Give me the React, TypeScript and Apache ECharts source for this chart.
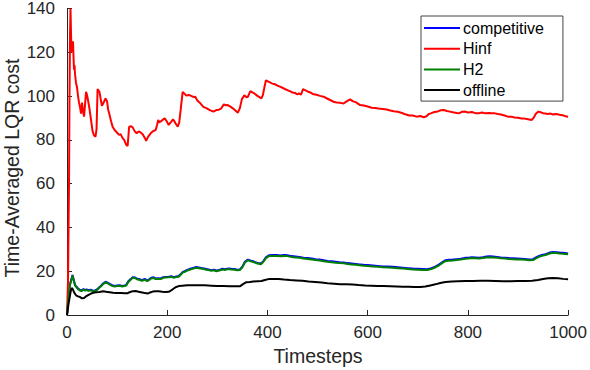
import React, { useEffect, useRef } from "react";
import * as echarts from "echarts";

const xTicks = [0, 200, 400, 600, 800, 1000];
const yTicks = [0, 20, 40, 60, 80, 100, 120, 140];
const seriesNames = ["competitive", "Hinf", "H2", "offline"];

const competitive: [number, number][] = [
  [0, 0], [3, 8], [6, 14], [9, 16.5], [11, 18.3], [13, 16.5], [16, 13.8], [19, 12.9], [22, 12.1], [25, 11.6], [29, 11.2], [33, 11.9], [36, 11.4], [39, 11.7], [43, 11.3], [47, 11.6], [52, 11.1], [56, 11.2], [60, 11.7], [64, 12.6], [68, 13.4], [72, 14.4], [77, 15.2], [81, 14.8], [86, 14.1], [90, 13.6], [95, 13.3], [100, 13.5], [105, 13.6], [110, 13.3], [115, 13.5], [118, 13.7], [122, 15.3], [127, 16.4], [131, 17.3], [136, 17.1], [140, 16.6], [145, 16.3], [150, 15.9], [155, 16.5], [160, 15.7], [164, 16.3], [168, 17], [173, 17.2], [177, 16.7], [182, 16.8], [187, 16.7], [192, 17.3], [197, 17.4], [203, 17.5], [208, 17.7], [213, 17.3], [218, 17.6], [223, 17.8], [227, 18.7], [231, 19.7], [235, 20], [240, 20.6], [246, 21.1], [252, 21.5], [258, 21.9], [263, 21.7], [270, 21.4], [276, 21.1], [282, 20.8], [288, 20.5], [293, 20.7], [298, 20.3], [304, 20.6], [310, 21.1], [316, 20.9], [322, 21.3], [328, 21.1], [334, 21], [340, 20.7], [345, 20.8], [350, 22.1], [355, 24.3], [361, 25.3], [367, 24.8], [373, 24.4], [380, 23.8], [387, 23.5], [392, 24.6], [397, 26.3], [403, 27.3], [410, 27.4], [418, 27.4], [426, 27.2], [433, 27.4], [440, 27.3], [448, 26.9], [456, 26.7], [464, 26.5], [472, 26.2], [480, 26], [488, 25.8], [496, 25.5], [504, 25.3], [512, 25], [520, 24.7], [528, 24.5], [536, 24.3], [544, 24.1], [552, 24], [560, 23.7], [568, 23.5], [576, 23.3], [584, 23.1], [592, 22.9], [600, 22.8], [610, 22.6], [620, 22.4], [630, 22.2], [640, 22.1], [650, 22], [660, 21.8], [670, 21.6], [680, 21.4], [690, 21.2], [700, 21.1], [710, 21], [719, 20.9], [727, 21.4], [735, 22.1], [742, 23], [750, 24.3], [755, 25], [762, 25.2], [770, 25.3], [778, 25.5], [786, 25.7], [794, 26.1], [801, 26.2], [808, 26.4], [815, 26.3], [822, 26.2], [830, 26.4], [837, 26.7], [844, 26.8], [850, 26.7], [858, 26.5], [866, 26.3], [874, 26.2], [882, 26], [890, 25.9], [898, 25.8], [906, 25.7], [914, 25.6], [922, 25.4], [930, 25.5], [936, 26.3], [942, 27], [948, 27.4], [955, 27.8], [962, 28.4], [969, 28.8], [976, 28.7], [983, 28.5], [990, 28.4], [1000, 28.1],
];

const hinf: [number, number][] = [
  [0, 0], [2, 15], [4, 60], [5, 100], [6, 128], [7, 140], [8, 129], [9, 120], [10, 125], [11, 121], [12, 125], [13, 118], [14, 112], [15, 114], [16, 110], [18, 106], [20, 104], [22, 100], [24, 97], [26, 95], [28, 92], [30, 97], [32, 93], [34, 90.6], [36, 96], [38, 101.9], [40, 100.5], [42, 98], [45, 94], [48, 89], [51, 84], [54, 82], [57, 81.5], [59, 85], [61, 103.2], [63, 102.5], [65, 101.7], [67, 99], [69.6, 95.6], [72, 96.5], [74, 97.5], [77, 98.9], [80, 97.5], [82, 94], [85, 91.3], [88, 88.5], [91, 86], [95, 84.5], [99, 83.5], [104, 82.3], [107, 82.6], [111, 80.8], [114, 80], [118, 77.8], [121, 77.2], [124, 86], [128, 86.2], [131, 85.7], [135, 84], [139, 83], [143, 83.8], [147, 83.4], [151, 82.6], [155, 81], [158, 79.6], [162, 81.5], [167, 83], [172, 84], [177, 84.5], [180, 87], [182, 89.1], [184, 88], [187, 88.4], [190, 89], [195, 89.8], [199, 88.5], [203, 86.8], [207, 88], [211.6, 89.4], [215, 88.2], [218, 87], [221, 86], [224, 88], [227, 94], [230.8, 101.9], [234, 101.2], [238, 100.2], [243, 100.5], [248, 100.1], [252, 99.6], [256, 99.7], [260, 98], [265, 97], [272, 95.1], [278, 94.5], [285, 93.6], [292, 92.9], [298, 93.6], [303, 93.8], [308, 94.4], [313, 96.2], [317, 95.8], [321, 95.9], [326, 95.2], [331, 94.4], [336, 93.4], [341, 92.4], [345, 94.5], [349, 98.6], [354, 100.4], [358, 99.5], [361, 99.7], [366, 102.3], [370, 101.7], [374, 101.2], [380, 100.1], [384, 99.5], [388, 98.9], [391, 100.5], [394, 104], [397, 107.2], [402, 106.6], [407, 106], [410, 105.7], [415, 105.4], [420, 104.8], [425, 104.3], [430, 103.8], [436, 103.1], [442, 102.5], [447, 102], [450, 101.6], [455, 101.4], [460, 100.8], [463, 101.2], [467, 100.6], [471, 103.2], [476, 102.6], [481, 102], [486, 101.6], [492, 100.8], [498, 100.6], [505, 100.1], [512, 99.7], [518, 99], [525, 98.2], [532, 97.4], [538, 97.1], [545, 96.9], [552, 96.6], [558, 97.6], [565, 98.5], [570, 97.7], [577, 97.1], [585, 95.9], [592, 95.7], [600, 95.2], [608, 94.7], [615, 94.6], [622, 94.3], [630, 94.1], [638, 93.9], [645, 93.4], [652, 93.1], [660, 92.8], [667, 92.4], [675, 91.7], [683, 91.1], [690, 91.1], [698, 90.6], [705, 90.9], [712, 90.3], [718, 90.9], [722, 91.8], [726, 92.1], [733, 92.7], [740, 93], [746, 93.5], [752, 93.6], [758, 93.2], [764, 92.9], [770, 92.6], [775, 92.4], [782, 92.1], [788, 92.8], [795, 92.9], [800, 92.5], [808, 92.7], [815, 92.2], [821, 92.1], [828, 92.5], [835, 92.1], [842, 92.3], [848, 92.2], [854, 92.1], [860, 91.8], [866, 91.6], [873, 91.1], [880, 90.6], [887, 90.6], [893, 90.2], [900, 90.1], [907, 89.8], [913, 89.7], [920, 89.4], [927, 89.1], [931, 90], [936, 92], [941, 92.9], [945, 92.6], [950, 92.2], [955, 92], [959, 91.8], [965, 92], [970, 91.6], [975, 91.8], [979, 91.7], [985, 91.3], [990, 91.2], [995, 90.8], [1000, 90.6],
];

const h2: [number, number][] = [
  [0, 0], [3, 7.8], [6, 13.8], [9, 16.2], [11, 18], [13, 16.2], [16, 13.5], [19, 12.6], [22, 11.8], [25, 11.3], [29, 10.9], [33, 11.6], [36, 11.1], [39, 11.4], [43, 11], [47, 11.3], [52, 10.8], [56, 10.9], [60, 11.4], [64, 12.3], [68, 13.1], [72, 14.1], [77, 14.9], [81, 14.5], [86, 13.8], [90, 13.3], [95, 13], [100, 13.2], [105, 13.3], [110, 13], [115, 13.2], [118, 13.4], [122, 15], [127, 16.1], [131, 17], [136, 16.8], [140, 16.3], [145, 16], [150, 15.6], [155, 16.2], [160, 15.4], [164, 16], [168, 16.7], [173, 16.9], [177, 16.4], [182, 16.5], [187, 16.4], [192, 17], [197, 17.1], [203, 17.2], [208, 17.4], [213, 17], [218, 17.3], [223, 17.5], [227, 18.4], [231, 19.4], [235, 19.7], [240, 20.3], [246, 20.8], [252, 21.2], [258, 21.6], [263, 21.4], [270, 21.1], [276, 20.8], [282, 20.5], [288, 20.2], [293, 20.4], [298, 20], [304, 20.3], [310, 20.8], [316, 20.6], [322, 21], [328, 20.8], [334, 20.7], [340, 20.4], [345, 20.5], [350, 21.8], [355, 24], [361, 25], [367, 24.5], [373, 24.1], [380, 23.5], [387, 23.2], [392, 24.3], [397, 26], [403, 26.9], [410, 27], [418, 27], [426, 26.8], [433, 27], [440, 26.9], [448, 26.5], [456, 26.3], [464, 26.1], [472, 25.8], [480, 25.6], [488, 25.4], [496, 25.1], [504, 24.9], [512, 24.6], [520, 24.3], [528, 24.1], [536, 23.9], [544, 23.7], [552, 23.6], [560, 23.3], [568, 23.1], [576, 22.9], [584, 22.7], [592, 22.5], [600, 22.4], [610, 22.2], [620, 22], [630, 21.8], [640, 21.7], [650, 21.6], [660, 21.4], [670, 21.2], [680, 21], [690, 20.8], [700, 20.7], [710, 20.6], [719, 20.5], [727, 21], [735, 21.7], [742, 22.6], [750, 23.9], [755, 24.6], [762, 24.8], [770, 24.9], [778, 25.1], [786, 25.3], [794, 25.7], [801, 25.8], [808, 26], [815, 25.9], [822, 25.8], [830, 26], [837, 26.3], [844, 26.4], [850, 26.3], [858, 26.1], [866, 25.9], [874, 25.8], [882, 25.6], [890, 25.5], [898, 25.4], [906, 25.3], [914, 25.2], [922, 25], [930, 25.1], [936, 25.9], [942, 26.6], [948, 27], [955, 27.4], [962, 28], [969, 28.4], [976, 28.3], [983, 28.1], [990, 28], [1000, 27.7],
];

const offline: [number, number][] = [
  [0, 0], [3, 5], [6, 9], [8, 11.5], [10, 12.3], [12, 11.5], [15, 10], [18, 9], [22, 8.5], [26, 8.2], [30, 7.6], [34, 7.8], [38, 8.5], [43, 9.2], [48, 9.8], [52, 10.1], [58, 10.4], [65, 10.5], [72, 10.8], [78, 10.6], [85, 10.4], [92, 10.2], [100, 10], [108, 10], [115, 9.9], [120, 9.9], [126, 10.5], [132, 10.9], [137, 11], [143, 10.6], [150, 10.3], [156, 10], [161, 9.8], [166, 10.3], [171, 10.7], [177, 10.9], [183, 10.8], [190, 10.6], [197, 10.5], [203, 10.6], [208, 11.2], [213, 12.1], [218, 12.8], [223, 13.2], [230, 13.4], [240, 13.6], [250, 13.6], [262, 13.6], [275, 13.6], [288, 13.4], [300, 13.2], [312, 13.2], [325, 13.1], [335, 13.1], [345, 13.1], [352, 14.2], [358, 15], [365, 15.1], [372, 15.3], [380, 15.4], [388, 15.5], [395, 16], [402, 16.4], [412, 16.5], [422, 16.4], [433, 16.2], [445, 16], [458, 15.8], [470, 15.6], [482, 15.3], [495, 15.1], [508, 14.8], [520, 14.5], [533, 14.3], [545, 14.1], [558, 14], [570, 13.9], [582, 13.7], [595, 13.5], [607, 13.4], [620, 13.3], [632, 13.2], [645, 13.1], [658, 13], [670, 12.9], [682, 12.9], [693, 12.8], [705, 12.8], [715, 13], [725, 13.5], [735, 14], [745, 14.6], [755, 15.1], [768, 15.3], [780, 15.4], [795, 15.5], [810, 15.5], [825, 15.6], [840, 15.6], [855, 15.5], [870, 15.4], [885, 15.4], [900, 15.5], [915, 15.5], [928, 15.6], [940, 16], [950, 16.4], [960, 16.8], [970, 16.9], [980, 16.8], [990, 16.5], [1000, 16.3],
];

const FONT = "'Liberation Sans', Arial, Helvetica, sans-serif";
const AXIS_COLOR = "#262626";

export default function App() {
  const ref = useRef<HTMLDivElement>(null);
  useEffect(() => {
    if (!ref.current) return;
    const chart = echarts.init(ref.current, undefined, { renderer: "svg" });
    const colors = ["#0000ff", "#ff0000", "#008000", "#000000"];
    const datasets = [competitive, hinf, h2, offline];
    chart.setOption({
      animation: false,
      backgroundColor: "#ffffff",
      grid: { left: 67, right: 16, top: 6, bottom: 55, containLabel: false },
      xAxis: {
        type: "value",
        min: xTicks[0],
        max: xTicks[xTicks.length - 1],
        interval: 200,
        axisLine: { show: true, lineStyle: { color: AXIS_COLOR, width: 1 } },
        axisTick: { show: true, inside: true, length: 5, lineStyle: { color: AXIS_COLOR } },
        axisLabel: {
          color: AXIS_COLOR,
          fontSize: 17,
          fontFamily: FONT,
          margin: 9,
          formatter: (v: number) => String(v),
        },
        splitLine: { show: false },
      },
      yAxis: {
        type: "value",
        min: yTicks[0],
        max: yTicks[yTicks.length - 1],
        interval: 20,
        axisLine: { show: true, lineStyle: { color: AXIS_COLOR, width: 1 } },
        axisTick: { show: true, inside: true, length: 5, lineStyle: { color: AXIS_COLOR } },
        axisLabel: {
          color: AXIS_COLOR,
          fontSize: 17,
          fontFamily: FONT,
          margin: 12,
          formatter: (v: number) => String(v),
        },
        splitLine: { show: false },
      },
      legend: {
        orient: "vertical",
        left: 421,
        top: 16,
        data: seriesNames.map((n) => ({ name: n, icon: "rect" })),
        itemWidth: 36,
        itemHeight: 2,
        itemGap: 4.7,
        padding: [4, 19, 3, 3],
        borderColor: "#444444",
        borderWidth: 1,
        backgroundColor: "#ffffff",
        textStyle: { color: "#000000", fontSize: 16, fontFamily: FONT, padding: [0, 0, 0, -2] },
      },
      graphic: [
        {
          type: "text",
          x: 12,
          y: 168,
          rotation: Math.PI / 2,
          style: {
            text: "Time-Averaged LQR cost",
            fill: AXIS_COLOR,
            font: `19.5px ${FONT}`,
            align: "center",
            verticalAlign: "middle",
          },
        },
        {
          type: "text",
          x: 318,
          y: 356,
          style: {
            text: "Timesteps",
            fill: AXIS_COLOR,
            font: `19.5px ${FONT}`,
            align: "center",
            verticalAlign: "middle",
          },
        },
      ],
      series: seriesNames.map((name, i) => ({
        name,
        type: "line",
        data: datasets[i],
        symbol: "none",
        showSymbol: false,
        clip: true,
        lineStyle: { color: colors[i], width: 2 },
        itemStyle: { color: colors[i] },
      })),
    });
    return () => chart.dispose();
  }, []);
  return (
    <div
      ref={ref}
      style={{ position: "absolute", left: 0, top: 0, width: 590, height: 370 }}
    />
  );
}
